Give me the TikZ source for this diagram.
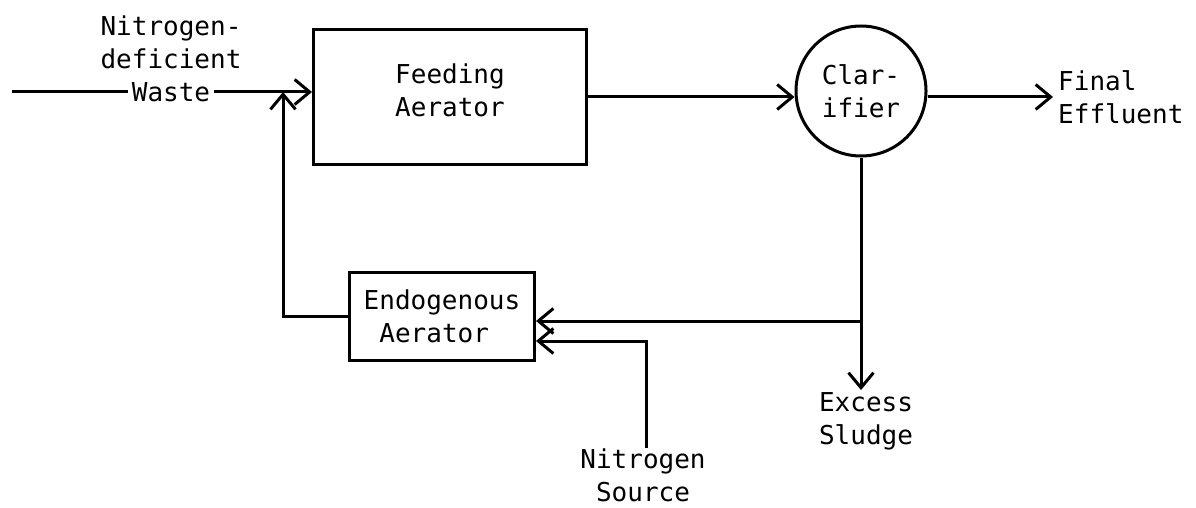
\documentclass[tikz,border=0pt]{standalone}
\usepackage{fontspec}
\setmonofont{DejaVu Sans Mono}
\usetikzlibrary{arrows.meta, positioning, calc}

\begin{document}
\begin{tikzpicture}[x=1pt, y=-1pt,
  tank/.style={draw, line width=3pt, inner sep=0pt,
               font=\ttfamily\fontsize{26}{33}\selectfont, align=center},
  lbl/.style={font=\ttfamily\fontsize{26}{33}\selectfont, align=center, inner sep=0pt},
  pipe/.style={line width=3pt},
  flow/.style={pipe, -{Straight Barb[length=15pt, width=25pt, line width=3pt]}}
]
\useasboundingbox (0,0) rectangle (1196,508);

% Units
\node[tank, minimum width=273pt, minimum height=134pt] (feed) at (450,97) {};
\node[lbl] (feedtxt) at ([yshift=7pt]feed.center) {Feeding\\Aerator};
\node[tank, circle, minimum size=130pt] (clar) at (861,91) {Clar-\\ifier};
\node[tank, minimum width=185pt, minimum height=88pt, align=left] (endo) at (442,316)
  {Endogenous\\\hphantom{E}Aerator};

% Labels
\node[lbl, inner xsep=4pt] (waste) at (171,92) {Waste};
\node[lbl] (nodef) at (171,42) {Nitrogen-\\deficient};
\node[lbl, anchor=west, inner xsep=5pt, align=left] (effl) at (1053,97) {Final\\Effluent};
\node[lbl, inner ysep=2pt] (sludge) at (866,421) {Excess\\Sludge};
\node[lbl] (nsource) at (643,475) {Nitrogen\\Source};

% Junctions
\coordinate (inlet) at (12,92);
\coordinate (join) at (283,92);
\path (endo.east) ++(0,5) coordinate (endoR);
\path (endo.east) ++(0,25) coordinate (endoN);
\coordinate (split) at (clar.south |- endoR);

% Main line
\draw[pipe] (inlet) -- (waste.west);
\draw[flow] (waste.east) -- (waste.east -| feed.west);
\draw[flow] (feed.east) -- (feed.east -| clar.west);
\draw[flow] (feed.east -| clar.east) -- (effl.west);

% Sludge return
\draw[flow] (clar.south) -- (clar.south |- sludge.north);
\draw[flow] (split) -- (endoR);
\draw[flow] (nsource.north -| 646,0) |- (endoN);
\draw[flow] (endo.west) -| (join);

\end{tikzpicture}
\end{document}
